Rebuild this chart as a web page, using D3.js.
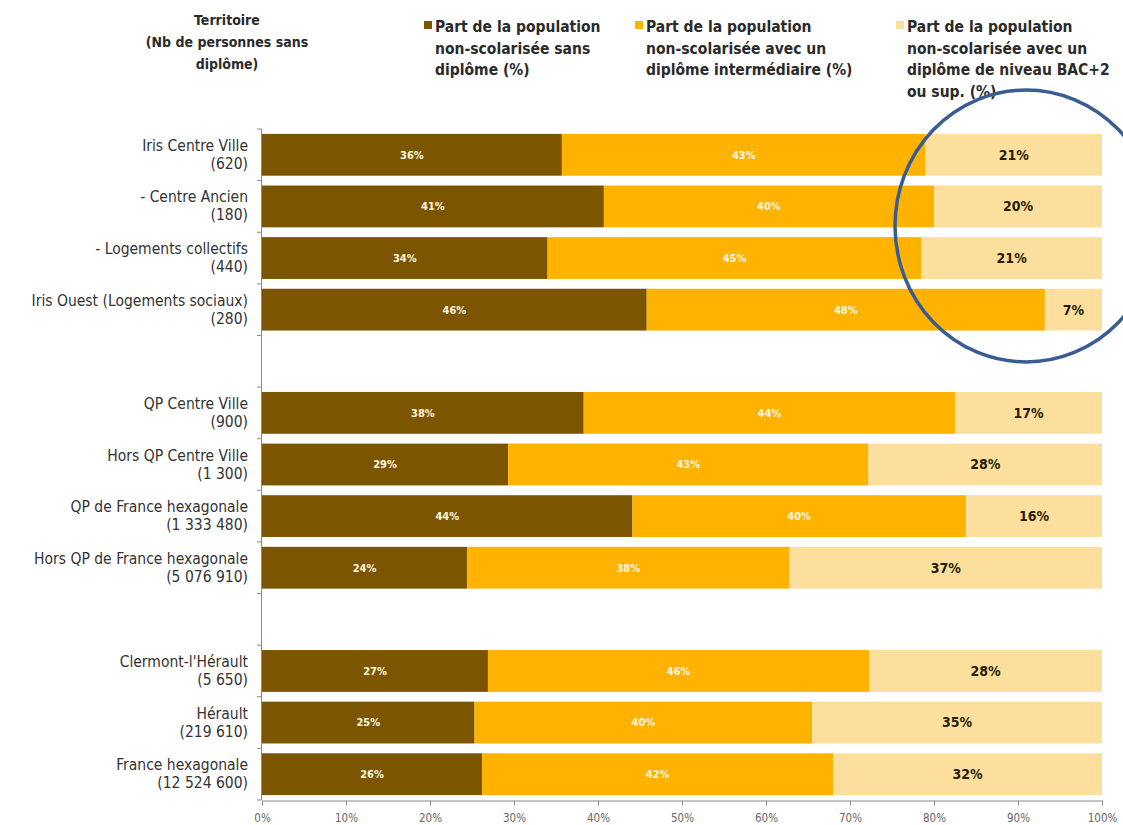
<!DOCTYPE html>
<html><head><meta charset="utf-8">
<script src="https://cdn.jsdelivr.net/npm/d3@7"></script>
<style>
body{margin:0;background:#fff;}
svg text{font-family:"Liberation Sans Narrow","Arial Narrow","DejaVu Sans Condensed",sans-serif;}
</style></head>
<body><svg id="c" width="1123" height="825"></svg>
<script>
const categories = [
  ["Iris Centre Ville","(620)"],
  ["- Centre Ancien","(180)"],
  ["- Logements collectifs","(440)"],
  ["Iris Ouest (Logements sociaux)","(280)"],
  null,
  ["QP Centre Ville","(900)"],
  ["Hors QP Centre Ville","(1 300)"],
  ["QP de France hexagonale","(1 333 480)"],
  ["Hors QP de France hexagonale","(5 076 910)"],
  null,
  ["Clermont-l'Hérault","(5 650)"],
  ["Hérault","(219 610)"],
  ["France hexagonale","(12 524 600)"]
];
const sansDiplome   = [35.7, 40.7, 34.0, 45.8, null, 38.3, 29.3, 44.1, 24.4, null, 26.9, 25.3, 26.2];
const intermediaire = [43.3, 39.3, 44.5, 47.4, null, 44.2, 42.9, 39.7, 38.4, null, 45.4, 40.2, 41.8];
const bacPlus2      = [21.0, 20.0, 21.5, 6.8, null, 17.5, 27.8, 16.2, 37.2, null, 27.7, 34.5, 32.0];
const labelsSans    = ["36%","41%","34%","46%",null,"38%","29%","44%","24%",null,"27%","25%","26%"];
const labelsInter   = ["43%","40%","45%","48%",null,"44%","43%","40%","38%",null,"46%","40%","42%"];
const labelsBac     = ["21%","20%","21%","7%",null,"17%","28%","16%","37%",null,"28%","35%","32%"];
const seriesNames = [
  ["Part de la population","non-scolarisée sans","diplôme (%)"],
  ["Part de la population","non-scolarisée avec un","diplôme intermédiaire (%)"],
  ["Part de la population","non-scolarisée avec un","diplôme de niveau BAC+2","ou sup. (%)"]
];
const headerLines = ["Territoire","(Nb de personnes sans","diplôme)"];
const xTicks = [0,10,20,30,40,50,60,70,80,90,100];
const colors = ["#7b5500","#ffb300","#fcdf9c"];

const svg = d3.select("#c");
const x = d3.scaleLinear().domain([0,100]).range([262,1102]);
const y = d3.scaleBand().domain(d3.range(categories.length)).range([129,800]).paddingInner(0.19).paddingOuter(0.095);

// header
svg.append("g").selectAll("text").data(headerLines).join("text")
  .attr("x",227).attr("y",(d,i)=>25+i*22).attr("text-anchor","middle")
  .attr("font-size",14).attr("font-weight","bold").attr("fill","#2a2a2a").text(d=>d);

// legend
const legX = [424, 635, 896];
seriesNames.forEach((lines,s)=>{
  const g = svg.append("g");
  g.append("rect").attr("x",legX[s]).attr("y",21).attr("width",8).attr("height",8).attr("fill",colors[s]);
  g.selectAll("text").data(lines).join("text")
    .attr("x",legX[s]+11).attr("y",(d,i)=>32+i*21.5)
    .attr("font-size",15.5).attr("font-weight","bold").attr("fill","#2a2a2a").text(d=>d);
});

// data rows
const rows = categories.map((c,i)=>({i,c,v:[sansDiplome[i],intermediaire[i],bacPlus2[i]],l:[labelsSans[i],labelsInter[i],labelsBac[i]]})).filter(r=>r.c);
const bh = y.bandwidth();
rows.forEach(r=>{
  let acc = 0;
  r.v.forEach((v,s)=>{
    const x0 = x(acc), x1 = x(acc+v);
    svg.append("rect").attr("x",x0).attr("y",y(r.i)).attr("width",x1-x0).attr("height",bh).attr("fill",colors[s]);
    svg.append("text").attr("x",(x0+x1)/2).attr("y",y(r.i)+bh/2)
      .attr("dy","0.35em").attr("text-anchor","middle")
      .attr("font-size", s===2?14:11).attr("font-weight","bold")
      .attr("fill", s===2?"#2b1d05":"#fff6e0").text(r.l[s]);
    acc += v;
  });
  svg.append("g").selectAll("text").data(r.c).join("text")
    .attr("x",248).attr("y",(d,k)=>y(r.i)+bh/2-4+k*18)
    .attr("text-anchor","end").attr("font-size",15.5).attr("fill","#333").text(d=>d);
});

// y axis line & ticks at band boundaries
const step = y.step();
const y0 = y.range()[0];
svg.append("line").attr("x1",261.5).attr("x2",261.5).attr("y1",y0).attr("y2",800).attr("stroke","#8a8a8a").attr("stroke-width",1);
svg.append("g").selectAll("line").data(d3.range(categories.length+1)).join("line")
  .attr("x1",257).attr("x2",261.5).attr("y1",d=>y0+d*step).attr("y2",d=>y0+d*step)
  .attr("stroke","#8a8a8a");

// x axis
const xAxis = d3.axisBottom(x).tickValues(xTicks).tickFormat(d=>d+"%").tickSize(5).tickPadding(8);
const gx = svg.append("g").attr("transform","translate(0,800.5)").call(xAxis);
gx.select(".domain").attr("stroke","#8a8a8a");
gx.selectAll(".tick line").attr("stroke","#8a8a8a");
gx.selectAll(".tick text").attr("font-size",11.5).attr("fill","#666")
  .attr("font-family","'Liberation Sans Narrow','DejaVu Sans Condensed',sans-serif");

// highlight circle
svg.append("ellipse").attr("cx",1026).attr("cy",226).attr("rx",131).attr("ry",136)
  .attr("fill","none").attr("stroke","#395d92").attr("stroke-width",3.5);
</script></body></html>
